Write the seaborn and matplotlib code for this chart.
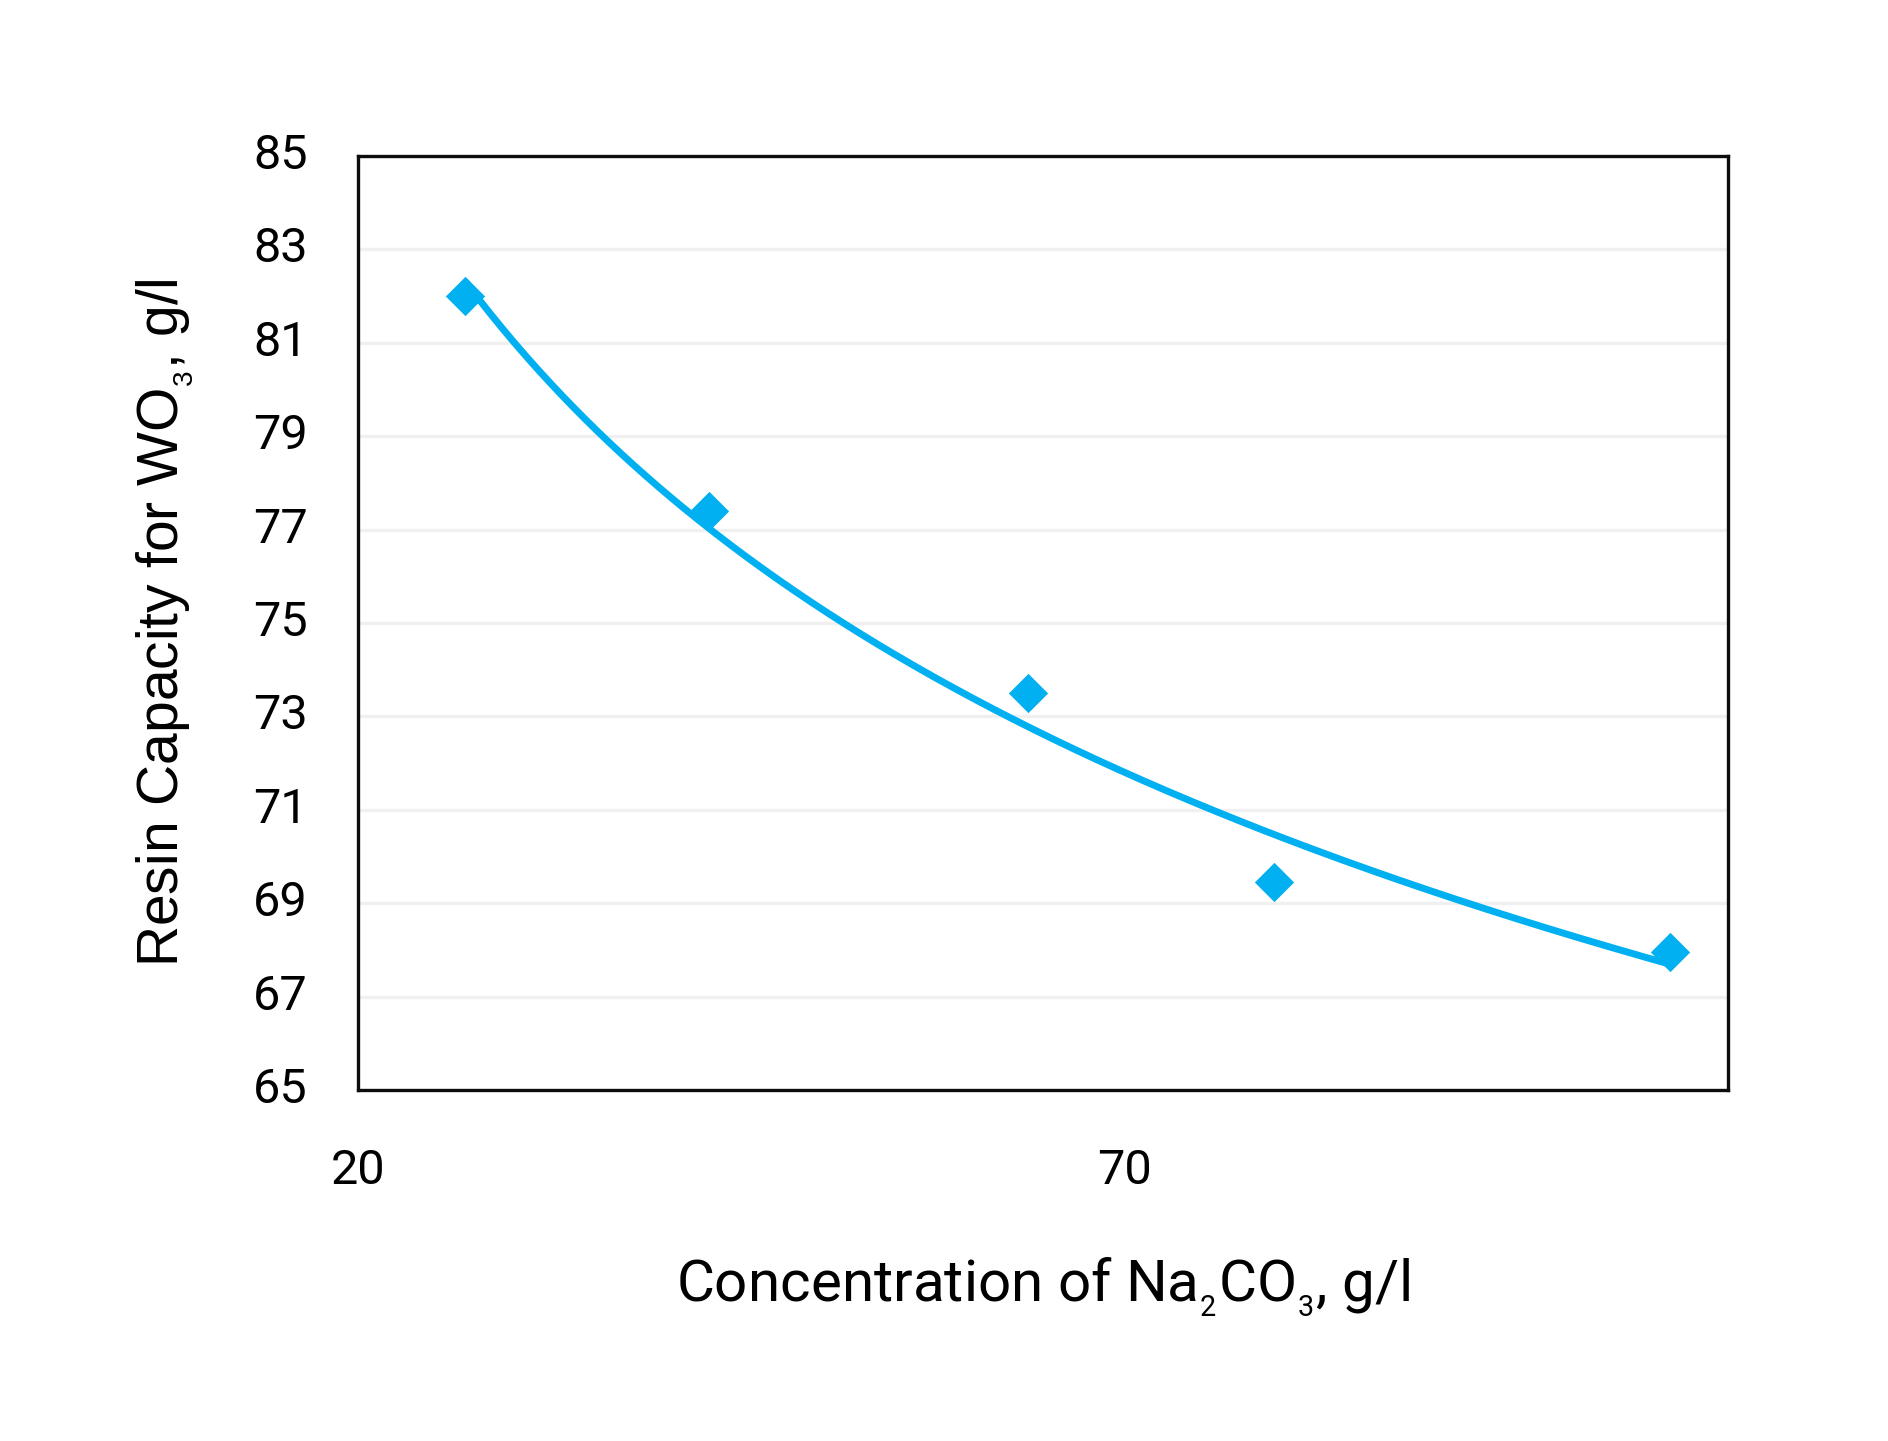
import matplotlib
matplotlib.use("Agg")
import matplotlib.pyplot as plt
import seaborn as sns
import numpy as np
import pandas as pd

# Data
na2co3_conc = [27.0, 42.9, 63.7, 79.8, 105.6]          # g/l
resin_capacity = [82.0, 77.4, 73.5, 69.45, 67.95]      # g/l WO3
x_ticks = [20, 70]
y_ticks = [65, 67, 69, 71, 73, 75, 77, 79, 81, 83, 85]

df = pd.DataFrame({"conc": na2co3_conc, "cap": resin_capacity})

# power trend line (y = A * x^b) fitted to the data, as in the reference
b, ln_a = np.polyfit(np.log(df["conc"]), np.log(df["cap"]), 1)
xs = np.linspace(df["conc"].min(), df["conc"].max(), 300)
trend = pd.DataFrame({"conc": xs, "cap": np.exp(ln_a) * xs ** b})

sns.set_theme(style="white")
plt.rcParams["font.family"] = ["Roboto", "DejaVu Sans"]
plt.rcParams["mathtext.default"] = "regular"

W, H = 1888, 1441
fig = plt.figure(figsize=(W / 100, H / 100), dpi=100)
ax = fig.add_axes([358 / W, 1 - 1090 / H, 1370 / W, 934 / H])

color = "#00B0F0"
sns.lineplot(data=trend, x="conc", y="cap", color=color, linewidth=5,
             ax=ax, zorder=2, solid_capstyle="butt")
sns.scatterplot(data=df, x="conc", y="cap", marker="D", color=color,
                s=20 ** 2, linewidth=0, ax=ax, zorder=3)

ax.set_xlim(20, 109.4)
ax.set_ylim(65, 85)
ax.set_xticks(x_ticks)
ax.set_yticks(y_ticks)
ax.tick_params(axis="both", length=0, labelsize=35, colors="black")
ax.tick_params(axis="y", pad=36)
ax.tick_params(axis="x", pad=42)
for lab in ax.get_yticklabels():
    lab.set_verticalalignment("center")

ax.yaxis.grid(True, color="#F0F0F0", linewidth=2.4)
ax.xaxis.grid(False)
ax.set_axisbelow(True)

for s in ax.spines.values():
    s.set_visible(True)
    s.set_color("#0D0D0D")
    s.set_linewidth(2.4)

ax.set_xlabel(r"Concentration of Na${}_{{}_2}$CO${}_{{}_3}$, g/l", fontsize=42,
              color="black", labelpad=44)
ax.set_ylabel(r"Resin Capacity for WO${}_{{}_3}$, g/l", fontsize=41, color="black",
              labelpad=42, family=["Liberation Sans", "DejaVu Sans"])

fig.savefig("out.png", dpi=100, facecolor="white")
